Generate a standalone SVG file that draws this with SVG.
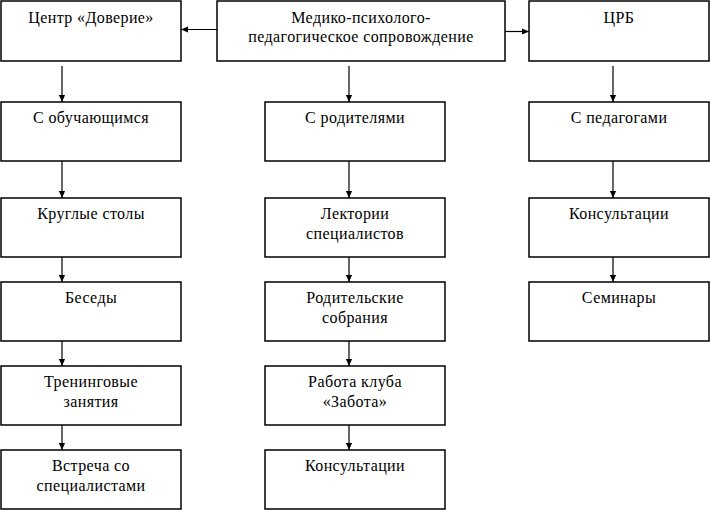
<svg xmlns="http://www.w3.org/2000/svg" width="710" height="512" viewBox="0 0 710 512">
<style>
.box{fill:#fff;stroke:#000;stroke-width:1.5}
.t{font-family:'Liberation Serif','DejaVu Serif','Times New Roman',serif;font-size:16px;letter-spacing:0.4px;text-anchor:middle;fill:#000}
.c line{stroke:#000;stroke-width:1.2;marker-end:url(#ah)}
</style>
<defs>
<marker id="ah" viewBox="0 0 8 8" refX="8" refY="4" markerWidth="7" markerHeight="7" markerUnits="userSpaceOnUse" orient="auto">
<path d="M0,0.5 L8,4 L0,7.5 Z" fill="#000"/>
</marker>
</defs>
<rect width="710" height="512" fill="#fff"/>
<g class="c">
<line x1="217" y1="29.5" x2="181" y2="29.5"/>
<line x1="505" y1="31.5" x2="529" y2="31.5"/>
<line x1="62" y1="66" x2="62" y2="102"/>
<line x1="349" y1="66" x2="349" y2="102"/>
<line x1="613" y1="66" x2="613" y2="102"/>
<line x1="62" y1="161" x2="62" y2="198"/>
<line x1="62" y1="257" x2="62" y2="282"/>
<line x1="62" y1="341" x2="62" y2="366"/>
<line x1="62" y1="425" x2="62" y2="450"/>
<line x1="349" y1="161" x2="349" y2="198"/>
<line x1="349" y1="257" x2="349" y2="282"/>
<line x1="349" y1="341" x2="349" y2="366"/>
<line x1="349" y1="425" x2="349" y2="450"/>
<line x1="613" y1="161" x2="613" y2="198"/>
<line x1="613" y1="257" x2="613" y2="282"/>
</g>
<g id="center"><rect class="box" x="1" y="1" width="180" height="60"/><text class="t" x="91" y="23">Центр «Доверие»</text></g>
<g id="main"><rect class="box" x="217" y="1" width="288" height="60"/><text class="t" x="361" y="23">Медико-психолого-</text><text class="t" x="361" y="42">педагогическое сопровождение</text></g>
<g id="crb"><rect class="box" x="529" y="1" width="180" height="60"/><text class="t" x="619" y="23">ЦРБ</text></g>
<g id="students"><rect class="box" x="1" y="102" width="180" height="59"/><text class="t" x="91" y="123">С обучающимся</text></g>
<g id="roundtables"><rect class="box" x="1" y="198" width="180" height="59"/><text class="t" x="91" y="219">Круглые столы</text></g>
<g id="talks"><rect class="box" x="1" y="282" width="180" height="59"/><text class="t" x="91" y="303">Беседы</text></g>
<g id="trainings"><rect class="box" x="1" y="366" width="180" height="59"/><text class="t" x="91" y="387">Тренинговые</text><text class="t" x="91" y="407">занятия</text></g>
<g id="meetings"><rect class="box" x="1" y="450" width="180" height="59"/><text class="t" x="91" y="471">Встреча со</text><text class="t" x="91" y="491">специалистами</text></g>
<g id="parents"><rect class="box" x="265" y="102" width="180" height="59"/><text class="t" x="355" y="123">С родителями</text></g>
<g id="lectures"><rect class="box" x="265" y="198" width="180" height="59"/><text class="t" x="355" y="219">Лектории</text><text class="t" x="355" y="239">специалистов</text></g>
<g id="parentmeetings"><rect class="box" x="265" y="282" width="180" height="59"/><text class="t" x="355" y="303">Родительские</text><text class="t" x="355" y="323">собрания</text></g>
<g id="club"><rect class="box" x="265" y="366" width="180" height="59"/><text class="t" x="355" y="387">Работа клуба</text><text class="t" x="355" y="407">«Забота»</text></g>
<g id="consult2"><rect class="box" x="265" y="450" width="180" height="59"/><text class="t" x="355" y="471">Консультации</text></g>
<g id="teachers"><rect class="box" x="529" y="102" width="180" height="59"/><text class="t" x="619" y="123">С педагогами</text></g>
<g id="consult3"><rect class="box" x="529" y="198" width="180" height="59"/><text class="t" x="619" y="219">Консультации</text></g>
<g id="seminars"><rect class="box" x="529" y="282" width="180" height="59"/><text class="t" x="619" y="303">Семинары</text></g>
</svg>
